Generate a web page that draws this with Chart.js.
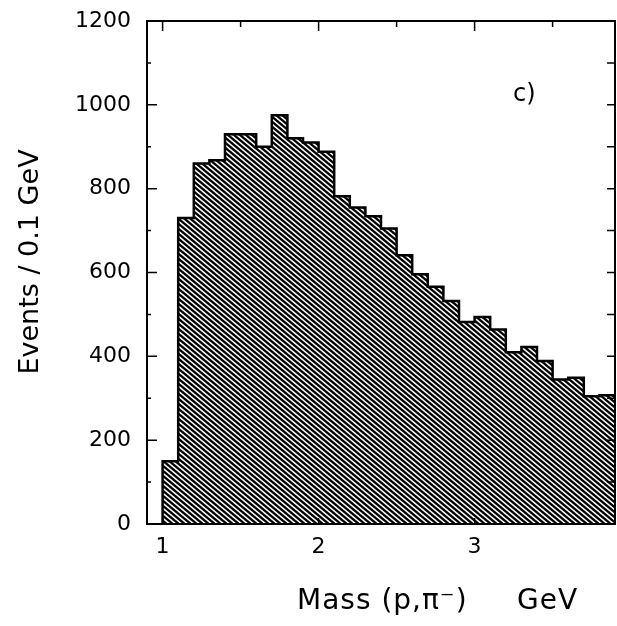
<!DOCTYPE html>
<html>
<head>
<meta charset="utf-8">
<script src="https://cdn.jsdelivr.net/npm/chart.js@4.4.1/dist/chart.umd.min.js"></script>
<style>
  html, body { margin: 0; padding: 0; background: #fff; }
  #wrap { position: relative; width: 617px; height: 626px; }
</style>
</head>
<body>
<div id="wrap"><canvas id="mass-hist"></canvas></div>
<script>
// lower edge of each 0.1 GeV bin
const binLow = [1.0, 1.1, 1.2, 1.3, 1.4, 1.5, 1.6, 1.7, 1.8, 1.9,
                2.0, 2.1, 2.2, 2.3, 2.4, 2.5, 2.6, 2.7, 2.8, 2.9,
                3.0, 3.1, 3.2, 3.3, 3.4, 3.5, 3.6, 3.7, 3.8];
const binWidth = 0.1;
// events per bin
const counts = [150, 730, 860, 868, 930, 930, 900, 975, 920, 910,
                888, 782, 755, 734, 705, 641, 596, 566, 532, 482,
                494, 464, 410, 422, 389, 345, 349, 305, 307];

const xTickValues = [1, 2, 3];
const yTickValues = [0, 200, 400, 600, 800, 1000, 1200];
const xMinorTicks = [1.5, 2.5, 3.5];
const yMinorTicks = [100, 300, 500, 700, 900, 1100];

const xTitle = "Mass (p,\u03C0\u207B)     GeV";
const yTitle = "Events / 0.1 GeV";
const panelLabel = "c)";

const FONT = "'DejaVu Sans', 'Liberation Sans', sans-serif";

// step outline: start on the axis, one point per bin, close at the last upper edge
const last = binLow.length - 1;
const outline = [{ x: binLow[0], y: 0 }]
    .concat(binLow.map((x, i) => ({ x: x, y: counts[i] })))
    .concat([{ x: binLow[last] + binWidth, y: counts[last] }]);

function makeHatch() {
    const w = 6, h = 5;
    const c = document.createElement("canvas");
    c.width = w;
    c.height = h;
    const g = c.getContext("2d");
    g.fillStyle = "#fff";
    g.fillRect(0, 0, w, h);
    g.strokeStyle = "#000";
    g.lineWidth = 2.3;
    for (const dx of [-w, 0, w]) {
        g.beginPath();
        g.moveTo(dx - w, -h);
        g.lineTo(dx + 2 * w, 2 * h);
        g.stroke();
    }
    return g.createPattern(c, "repeat");
}

const framePlugin = {
    id: "frame",
    afterDraw(chart) {
        const { ctx, chartArea: a, scales: { x, y } } = chart;
        ctx.save();
        ctx.strokeStyle = "#000";
        ctx.lineWidth = 2;
        ctx.strokeRect(a.left, a.top, a.right - a.left, a.bottom - a.top);

        ctx.lineWidth = 1.5;
        ctx.beginPath();
        // left: majors + minors, pointing inward
        yTickValues.forEach(v => {
            const py = y.getPixelForValue(v);
            ctx.moveTo(a.left, py); ctx.lineTo(a.left + 10, py);
        });
        yMinorTicks.forEach(v => {
            const py = y.getPixelForValue(v);
            ctx.moveTo(a.left, py); ctx.lineTo(a.left + 4, py);
        });
        // right: every 100
        yTickValues.concat(yMinorTicks).forEach(v => {
            const py = y.getPixelForValue(v);
            ctx.moveTo(a.right, py); ctx.lineTo(a.right - 8, py);
        });
        // top and bottom
        xTickValues.forEach(v => {
            const px = x.getPixelForValue(v);
            ctx.moveTo(px, a.top); ctx.lineTo(px, a.top + 10);
            ctx.moveTo(px, a.bottom); ctx.lineTo(px, a.bottom - 6);
        });
        xMinorTicks.forEach(v => {
            const px = x.getPixelForValue(v);
            ctx.moveTo(px, a.top); ctx.lineTo(px, a.top + 6);
        });
        ctx.stroke();

        ctx.fillStyle = "#000";
        // panel label
        ctx.font = "24px " + FONT;
        ctx.textAlign = "left";
        ctx.textBaseline = "alphabetic";
        ctx.fillText(panelLabel, x.getPixelForValue(3.246), y.getPixelForValue(1008));

        // x title
        ctx.font = "28px " + FONT;
        ctx.textBaseline = "middle";
        ctx.letterSpacing = "1px";
        ctx.fillText(xTitle, 297, 602);
        ctx.letterSpacing = "0px";

        // y title
        ctx.translate(31, 262);
        ctx.rotate(-Math.PI / 2);
        ctx.font = "27px " + FONT;
        ctx.textAlign = "center";
        ctx.fillText(yTitle, 0, 0);
        ctx.restore();
    }
};

const ctx = document.getElementById("mass-hist").getContext("2d");

new Chart(ctx, {
    type: "line",
    data: {
        datasets: [
            {
                label: "Events",
                data: outline,
                stepped: "before",
                fill: "origin",
                backgroundColor: makeHatch(),
                borderColor: "#000",
                borderWidth: 2.5,
                pointRadius: 0,
            },
        ],
    },
    options: {
        responsive: true,
        maintainAspectRatio: false,
        animation: false,
        layout: { padding: { top: 21, right: 2, left: 0, bottom: 0 } },
        plugins: {
            legend: { display: false },
            tooltip: { enabled: false },
        },
        scales: {
            x: {
                type: "linear",
                min: 0.9,
                max: 3.9,
                grid: { display: false, drawTicks: false },
                border: { display: false },
                ticks: {
                    color: "#000",
                    font: { family: FONT, size: 22 },
                    padding: 10,
                    maxRotation: 0,
                    autoSkip: false,
                    callback: (v) => String(v),
                },
                afterBuildTicks: (scale) => {
                    scale.ticks = xTickValues.map(v => ({ value: v }));
                },
                afterFit: (scale) => { scale.height = 102; },
            },
            y: {
                type: "linear",
                min: 0,
                max: 1200,
                grid: { display: false, drawTicks: false },
                border: { display: false },
                ticks: {
                    color: "#000",
                    font: { family: FONT, size: 22 },
                    padding: 16,
                    callback: (v) => String(v),
                },
                afterBuildTicks: (scale) => {
                    scale.ticks = yTickValues.map(v => ({ value: v }));
                },
                afterFit: (scale) => {
                    scale.width = 147;
                    // the layout padding already leaves room for the top label
                    scale.paddingTop = 0;
                    scale.paddingBottom = 0;
                },
            },
        },
    },
    plugins: [framePlugin],
});
</script>
</body>
</html>
